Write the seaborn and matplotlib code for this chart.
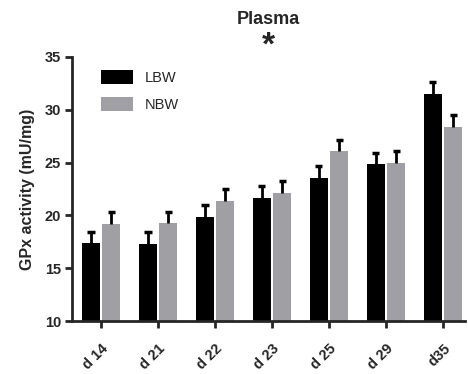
import numpy as np
import pandas as pd
import seaborn as sns
import matplotlib.pyplot as plt

days = ['d 14', 'd 21', 'd 22', 'd 23', 'd 25', 'd 29', 'd35']
lbw = [17.35, 17.3, 19.8, 21.65, 23.5, 24.85, 31.5]
nbw = [19.15, 19.25, 21.4, 22.1, 26.05, 24.95, 28.4]
lbw_err = [1.1, 1.15, 1.15, 1.1, 1.15, 1.1, 1.1]
nbw_err = [1.15, 1.05, 1.1, 1.15, 1.05, 1.15, 1.1]

df = pd.DataFrame({
    'day': days * 2,
    'group': ['LBW'] * len(days) + ['NBW'] * len(days),
    'value': lbw + nbw,
})

sns.set_style('ticks')
plt.rcParams['font.family'] = ['Liberation Sans', 'DejaVu Sans']

fig = plt.figure(figsize=(4.68, 3.74), dpi=100)
ax = fig.add_axes([0.154, 0.1417, 0.84, 0.706])

palette = {'LBW': '#000000', 'NBW': '#a0a0a4'}
sns.barplot(data=df, x='day', y='value', hue='group', palette=palette,
            errorbar=None, width=0.72, gap=0.12, saturation=1,
            linewidth=0, ax=ax)

# one-sided SEM bars: stem up from the bar top, cap only at the upper end
errs = {'LBW': lbw_err, 'NBW': nbw_err}
for cont, name in zip(ax.containers, ['LBW', 'NBW']):
    xs = np.array([p.get_x() + p.get_width() / 2 for p in cont.patches])
    hs = np.array([p.get_height() for p in cont.patches])
    tops = hs + np.array(errs[name])
    ax.vlines(xs, hs, tops, color='black', linewidth=2, zorder=3)
    ax.hlines(tops, xs - 0.065, xs + 0.065, color='black', linewidth=2.5, zorder=3)

ax.set_ylim(10, 35)
ax.set_xlim(-0.51, 6.39)
ax.set_yticks([10, 15, 20, 25, 30, 35])
ax.set_xlabel('')
ax.set_ylabel('GPx activity (mU/mg)', fontsize=11.5, fontweight='bold', labelpad=7)
ax.set_title('Plasma', fontsize=13, fontweight='bold', pad=24)
ax.text(0.5, 1.04, '*', transform=ax.transAxes, ha='center', va='center',
        fontsize=24, fontweight='bold')

for lbl in ax.get_yticklabels():
    lbl.set_fontweight('bold')
    lbl.set_fontsize(10.5)
ax.set_xticks(range(len(days)))
ax.set_xticklabels(days, rotation=45, ha='right', rotation_mode='anchor',
                   fontsize=10.5, fontweight='bold')

sns.despine(ax=ax)
for s in ['left', 'bottom']:
    ax.spines[s].set_linewidth(2)
ax.tick_params(axis='both', width=2, length=5, pad=3)
ax.tick_params(axis='x', pad=10)

ax.legend(loc='upper left', bbox_to_anchor=(0.04, 1.0), frameon=False,
          fontsize=10.5, handlelength=2.2, handleheight=1.05,
          handletextpad=0.8, labelspacing=0.85, title=None)

fig.savefig('out.png', dpi=100)
